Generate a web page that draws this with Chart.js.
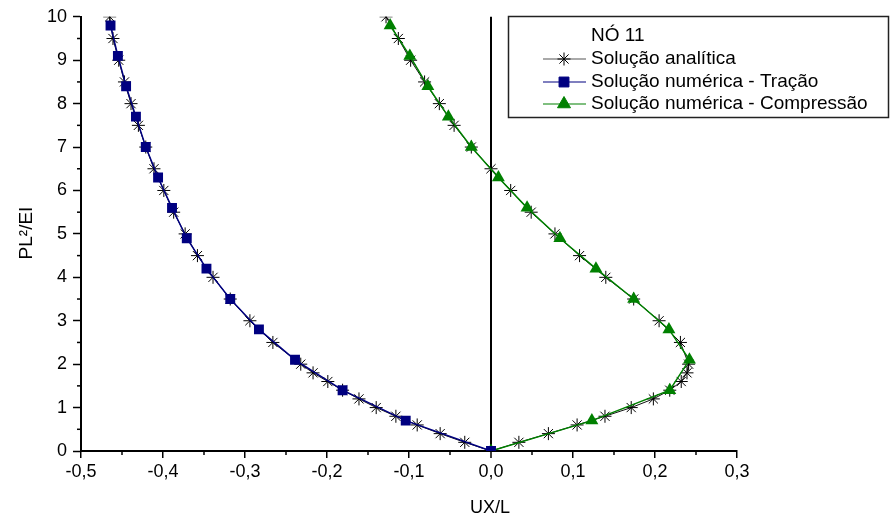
<!DOCTYPE html>
<html>
<head>
<meta charset="utf-8">
<script src="https://cdn.jsdelivr.net/npm/chart.js@4/dist/chart.umd.min.js"></script>
<style>
  html,body{margin:0;padding:0;background:#fff;}
  #wrap{width:893px;height:523px;position:relative;}
</style>
</head>
<body>
<div id="wrap"><canvas id="c" width="893" height="523"></canvas></div>
<script>
// Solução analítica (ramo de tração / ramo de compressão)
const anaY      = [10, 9.5, 9, 8.5, 8, 7.5, 7, 6.5, 6, 5.5, 5, 4.5, 4, 3.5, 3, 2.5, 2, 1.8, 1.6, 1.4, 1.2, 1.0, 0.8, 0.6, 0.4, 0.2, 0];
const anaTracX  = [-0.465, -0.461, -0.454, -0.447, -0.439, -0.430, -0.421, -0.411, -0.399, -0.387, -0.373, -0.358, -0.339, -0.318, -0.294, -0.266, -0.232, -0.217, -0.199, -0.181, -0.161, -0.140, -0.116, -0.090, -0.062, -0.032, 0];
const anaCompX  = [-0.128, -0.113, -0.098, -0.081, -0.063, -0.045, -0.024, 0.000, 0.024, 0.049, 0.078, 0.108, 0.140, 0.174, 0.205, 0.231, 0.241, 0.239, 0.232, 0.218, 0.198, 0.171, 0.139, 0.105, 0.070, 0.034, 0];

// Solução numérica
const numY      = [9.8, 9.1, 8.4, 7.7, 7.0, 6.3, 5.6, 4.9, 4.2, 3.5, 2.8, 2.1, 1.4, 0.7, 0];
const tracaoX   = [-0.464, -0.455, -0.445, -0.433, -0.421, -0.406, -0.389, -0.371, -0.347, -0.318, -0.283, -0.239, -0.181, -0.104, 0];
const compX     = [-0.123, -0.099, -0.077, -0.052, -0.024, 0.009, 0.044, 0.084, 0.128, 0.174, 0.217, 0.242, 0.218, 0.123, 0];

const xTicks = [-0.5, -0.4, -0.3, -0.2, -0.1, 0.0, 0.1, 0.2, 0.3];
const yTicks = [0, 1, 2, 3, 4, 5, 6, 7, 8, 9, 10];

const legendTitle = 'NÓ 11';
const legendLabels = ['Solução analítica', 'Solução numérica - Tração', 'Solução numérica - Compressão'];

const NAVY = '#000080', GREEN = '#008000', FONT = '"Liberation Sans", Arial, sans-serif';
const pts = (xs, ys) => xs.map((x, i) => ({x, y: ys[i]}));

const anaStyle = { showLine:true, order:1, borderColor:'#111', borderWidth:1, pointStyle:'star', pointRadius:6.5,
  pointBorderColor:'#000', pointBorderWidth:1, pointBackgroundColor:'#000', pointHoverRadius:6.5 };

const extras = {
  id:'extras',
  afterDraw(chart){
    const {ctx, chartArea:a, scales:{x, y}} = chart;
    ctx.save();
    ctx.strokeStyle = '#000'; ctx.lineWidth = 1.5;
    // minor ticks
    for (let i = 0; i < xTicks.length - 1; i++) {
      const px = x.getPixelForValue((xTicks[i] + xTicks[i+1]) / 2);
      ctx.beginPath(); ctx.moveTo(px, a.bottom); ctx.lineTo(px, a.bottom + 4); ctx.stroke();
    }
    for (let i = 0; i < yTicks.length - 1; i++) {
      const py = y.getPixelForValue((yTicks[i] + yTicks[i+1]) / 2);
      ctx.beginPath(); ctx.moveTo(a.left, py); ctx.lineTo(a.left - 4, py); ctx.stroke();
    }
    // axis titles
    ctx.fillStyle = '#000';
    ctx.font = '18px ' + FONT;
    ctx.textAlign = 'center'; ctx.textBaseline = 'middle';
    ctx.fillText('UX/L', 490, 508);
    ctx.font = '19px ' + FONT;
    ctx.translate(27, 233); ctx.rotate(-Math.PI / 2);
    ctx.fillText('PL²/EI', 0, 0);
    ctx.restore();

    // legend
    ctx.save();
    ctx.strokeStyle = '#222'; ctx.lineWidth = 1.5;
    ctx.strokeRect(508.5, 16.5, 380, 101);
    ctx.fillStyle = '#000'; ctx.font = '19px ' + FONT;
    ctx.textAlign = 'left'; ctx.textBaseline = 'middle';
    ctx.fillText(legendTitle, 591, 36);
    const rows = [59, 82, 104], cols = ['#555', NAVY, GREEN], styles = ['star', 'rect', 'triangle'], rad = [6.5, 7, 7.5];
    rows.forEach((ry, i) => {
      ctx.strokeStyle = cols[i]; ctx.lineWidth = 1.2;
      ctx.beginPath(); ctx.moveTo(543, ry); ctx.lineTo(586, ry); ctx.stroke();
      ctx.fillStyle = i === 0 ? '#000' : cols[i]; ctx.strokeStyle = i === 0 ? '#000' : cols[i];
      ctx.lineWidth = 1;
      Chart.helpers.drawPoint(ctx, {pointStyle:styles[i], radius:rad[i], borderWidth:1}, 564, ry);
      ctx.fillStyle = '#000';
      ctx.fillText(legendLabels[i], 591, ry);
    });
    ctx.restore();
  }
};

new Chart(document.getElementById('c'), {
  type: 'scatter',
  data: { datasets: [
    { label: legendLabels[0], data: pts(anaTracX, anaY), ...anaStyle },
    { label: legendLabels[0], data: pts(anaCompX, anaY), ...anaStyle },
    { label: legendLabels[1], data: pts(tracaoX, numY), order:0, showLine:true, borderColor:NAVY, borderWidth:1.5,
      pointStyle:'rect', pointRadius:7, pointBackgroundColor:NAVY, pointBorderColor:NAVY, pointBorderWidth:0, pointHoverRadius:7 },
    { label: legendLabels[2], data: pts(compX, numY), order:0, showLine:true, borderColor:GREEN, borderWidth:1.5,
      pointStyle:'triangle', pointRadius:7.5, pointBackgroundColor:GREEN, pointBorderColor:GREEN, pointBorderWidth:0, pointHoverRadius:7.5 }
  ]},
  options: {
    responsive:false, animation:false, devicePixelRatio:1,
    layout:{ padding:{ left:0, right:156, top:16, bottom:0 } },
    plugins:{ legend:{display:false}, tooltip:{enabled:false} },
    scales:{
      x:{
        type:'linear', min:-0.5, max:0.3,
        afterBuildTicks: s => { s.ticks = xTicks.map(v => ({value:v})); },
        afterFit: s => { s.height = 72; },
        border:{ color:'#000', width:2 },
        grid:{ drawOnChartArea:true, tickLength:7, tickColor:'#000', tickWidth:1.5,
          color: c => (c.tick && Math.abs(c.tick.value) < 1e-9) ? '#000' : 'rgba(0,0,0,0)',
          lineWidth: c => (c.tick && Math.abs(c.tick.value) < 1e-9) ? 2 : 1.5 },
        ticks:{ color:'#000', font:{family:FONT, size:18}, padding:3,
          callback: v => v.toFixed(1).replace('.', ',') }
      },
      y:{
        type:'linear', min:0, max:10,
        afterBuildTicks: s => { s.ticks = yTicks.map(v => ({value:v})); },
        afterFit: s => { s.width = 81; },
        border:{ color:'#000', width:2 },
        grid:{ drawOnChartArea:false, tickLength:8, tickColor:'#000', tickWidth:1.5 },
        ticks:{ color:'#000', font:{family:FONT, size:18}, padding:6 }
      }
    }
  },
  plugins:[extras]
});
</script>
</body>
</html>
